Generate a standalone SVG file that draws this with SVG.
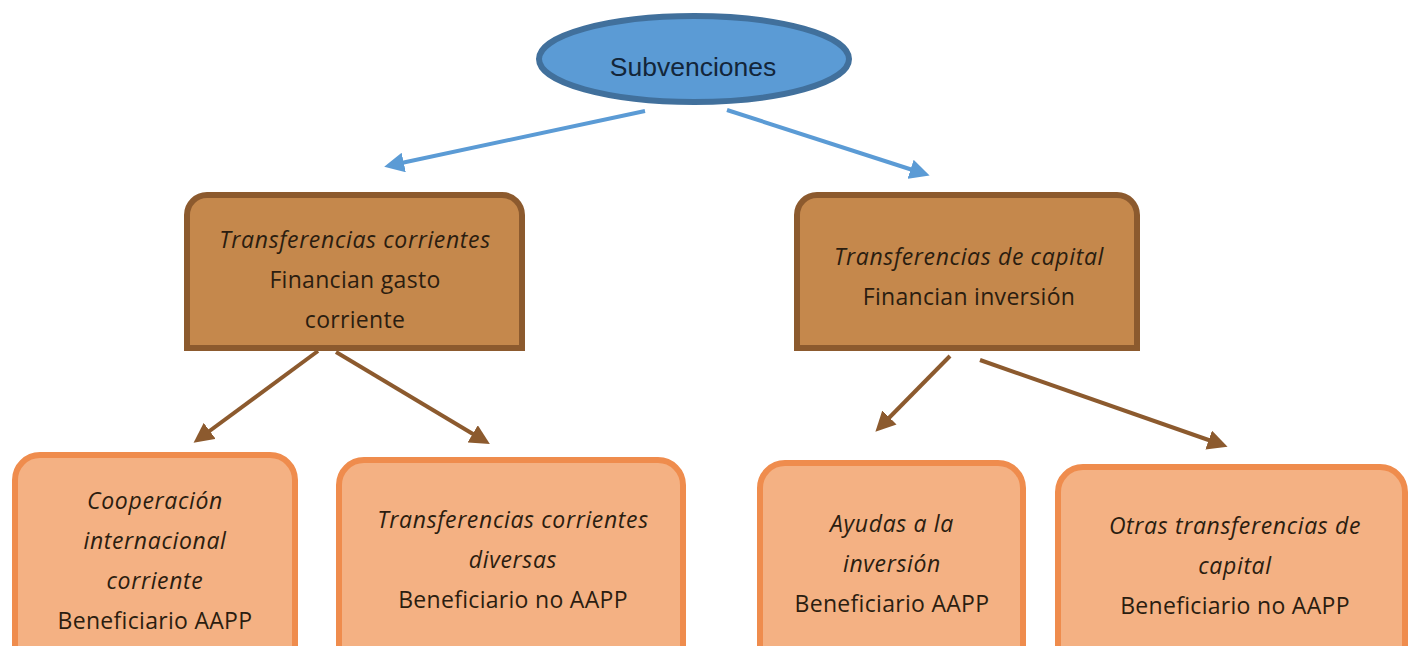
<svg xmlns="http://www.w3.org/2000/svg" width="1408" height="646" viewBox="0 0 1408 646">
<style>
.t{font-family:"Open Sans",Lato,"Liberation Sans",sans-serif;font-size:23px;fill:#2b1d10;text-anchor:middle;letter-spacing:0.3px}
.i{font-style:italic;letter-spacing:0.65px}
.mid{fill:#c5884c;stroke:#8c5a2e;stroke-width:6}
.leaf{fill:#f4b183;stroke:#ef8c4d;stroke-width:6}
.blue{stroke:#5b9bd5;stroke-width:4;fill:none}
.brown{stroke:#8c5a2e;stroke-width:4;fill:none}
</style>
<defs>
<marker id="ab" markerWidth="5" markerHeight="5" refX="3" refY="2.5" orient="auto" markerUnits="strokeWidth"><path d="M0,0L5,2.5L0,5z" fill="#5b9bd5"/></marker>
<marker id="ar" markerWidth="5" markerHeight="5" refX="3" refY="2.5" orient="auto" markerUnits="strokeWidth"><path d="M0,0L5,2.5L0,5z" fill="#8c5a2e"/></marker>
</defs>
<g id="connectors">
<line class="blue" x1="645" y1="111" x2="392" y2="165" marker-end="url(#ab)"/>
<line class="blue" x1="727" y1="110" x2="922" y2="173" marker-end="url(#ab)"/>
<line class="brown" x1="318" y1="351" x2="200" y2="438" marker-end="url(#ar)"/>
<line class="brown" x1="336" y1="352" x2="483" y2="440" marker-end="url(#ar)"/>
<line class="brown" x1="950" y1="356" x2="881" y2="426" marker-end="url(#ar)"/>
<line class="brown" x1="980" y1="360" x2="1220" y2="444" marker-end="url(#ar)"/>
</g>
<g id="subvenciones">
<ellipse cx="694" cy="59" rx="155" ry="43" fill="#5b9bd5" stroke="#41709c" stroke-width="6"/>
<text x="693" y="76" font-family="Liberation Sans,Arial,sans-serif" font-size="26.5" fill="#13263a" text-anchor="middle">Subvenciones</text>
</g>
<g id="corrientes">
<path class="mid" d="M187,348V215a20,20 0 0 1 20,-20H502a20,20 0 0 1 20,20V348z"/>
<text class="t i" x="355" y="248">Transferencias corrientes</text>
<text class="t" x="355" y="288">Financian gasto</text>
<text class="t" x="355" y="328">corriente</text>
</g>
<g id="capital">
<path class="mid" d="M797,348V215a20,20 0 0 1 20,-20H1117a20,20 0 0 1 20,20V348z"/>
<text class="t i" x="969" y="265">Transferencias de capital</text>
<text class="t" x="969" y="305">Financian inversión</text>
</g>
<g id="cooperacion">
<path class="leaf" d="M15,660V480a25,25 0 0 1 25,-25H270a25,25 0 0 1 25,25V660"/>
<text class="t i" x="155" y="509">Cooperación</text>
<text class="t i" x="155" y="549">internacional</text>
<text class="t i" x="155" y="589">corriente</text>
<text class="t" x="155" y="629">Beneficiario AAPP</text>
</g>
<g id="diversas">
<path class="leaf" d="M339,660V485a25,25 0 0 1 25,-25H658a25,25 0 0 1 25,25V660"/>
<text class="t i" x="513" y="528">Transferencias corrientes</text>
<text class="t i" x="513" y="568">diversas</text>
<text class="t" x="513" y="608">Beneficiario no AAPP</text>
</g>
<g id="ayudas">
<path class="leaf" d="M760,660V488a25,25 0 0 1 25,-25H998a25,25 0 0 1 25,25V660"/>
<text class="t i" x="892" y="532">Ayudas a la</text>
<text class="t i" x="892" y="572">inversión</text>
<text class="t" x="892" y="612">Beneficiario AAPP</text>
</g>
<g id="otras">
<path class="leaf" d="M1058,660V492a25,25 0 0 1 25,-25H1380a25,25 0 0 1 25,25V660"/>
<text class="t i" x="1235" y="534">Otras transferencias de</text>
<text class="t i" x="1235" y="574">capital</text>
<text class="t" x="1235" y="614">Beneficiario no AAPP</text>
</g>
</svg>
